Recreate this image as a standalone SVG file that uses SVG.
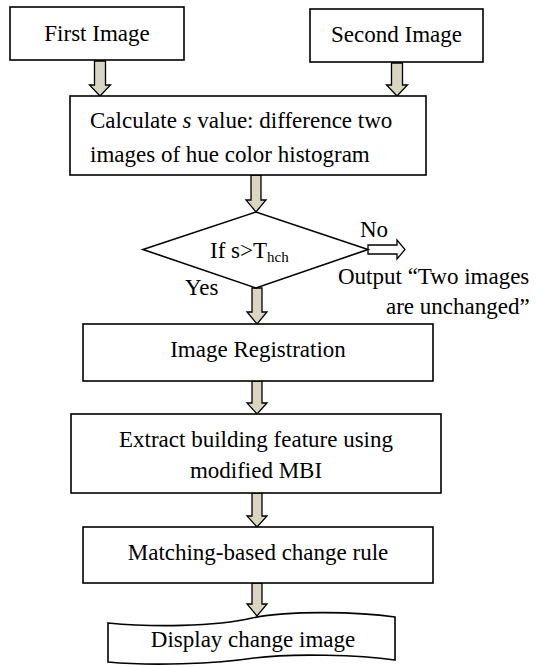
<svg xmlns="http://www.w3.org/2000/svg" width="538" height="666" viewBox="0 0 538 666" font-family="'Liberation Serif', 'Times New Roman', Tinos, 'DejaVu Serif', serif">
<style>
.box{fill:#fff;stroke:#000;stroke-width:1.6}
.t{font-family:'Liberation Serif','Times New Roman',Tinos,'DejaVu Serif',serif;font-size:23px;fill:#000}
.c{text-anchor:middle}
.arr{fill:#d9d5c1;stroke:#000;stroke-width:1.3;stroke-linejoin:miter}
.harr{fill:#fff;stroke:#000;stroke-width:1.3}
</style>
<rect width="538" height="666" fill="#fff"/>
<g id="connectors">
<path class="arr" d="M94.5,61 H105.5 V85 H110.5 L100,96 L89.5,85 H94.5 Z"/>
<path class="arr" d="M391.5,63 H402.5 V85 H407.5 L397,96 L386.5,85 H391.5 Z"/>
<path class="arr" d="M251,175 H261 V200 H266 L256,212 L246,200 H251 Z"/>
<path class="arr" d="M252,288 H262 V312 H267 L257,324 L247,312 H252 Z"/>
<path class="arr" d="M252,381 H262 V403 H267 L257,414 L247,403 H252 Z"/>
<path class="arr" d="M252,493 H262 V516 H267 L257,527 L247,516 H252 Z"/>
<path class="arr" d="M252,583 H262 V604 H267 L257,616 L247,604 H252 Z"/>
<path class="harr" d="M368,245 H397 V240 L405,249.5 L397,259 V254 H368 Z"/>
<text class="t" x="360" y="237">No</text>
<text class="t" x="185" y="295">Yes</text>
</g>
<g id="first-image">
<rect class="box" x="10" y="7" width="174" height="53"/>
<text class="t c" x="97" y="41">First Image</text>
</g>
<g id="second-image">
<rect class="box" x="310" y="9" width="173" height="53"/>
<text class="t c" x="396.5" y="42">Second Image</text>
</g>
<g id="calculate">
<rect class="box" x="70" y="96" width="356" height="79"/>
<text class="t" x="90" y="128">Calculate <tspan font-style="italic">s</tspan> value: difference two</text>
<text class="t" x="90" y="162">images of hue color histogram</text>
</g>
<g id="decision">
<path class="box" d="M143,249.5 L256,212 L368,249.5 L256,288 Z"/>
<text class="t" x="210" y="258">If s&gt;T<tspan font-size="15" dy="4">hch</tspan></text>
</g>
<g id="output-unchanged">
<text class="t" x="338" y="284">Output “Two images</text>
<text class="t" x="386" y="314">are unchanged”</text>
</g>
<g id="registration">
<rect class="box" x="83" y="324" width="350" height="57"/>
<text class="t c" x="258" y="357">Image Registration</text>
</g>
<g id="extract">
<rect class="box" x="71" y="414" width="370" height="79"/>
<text class="t c" x="256" y="447">Extract building feature using</text>
<text class="t c" x="256" y="478">modified MBI</text>
</g>
<g id="matching">
<rect class="box" x="83" y="527" width="350" height="56"/>
<text class="t c" x="258" y="560">Matching-based change rule</text>
</g>
<g id="display">
<path class="box" d="M108,623 C150,627 215,627 252,618 C290,610 360,612 395,617 L395,660 C360,655 292,653 254,658 C215,664 150,666 108,662 Z"/>
<text class="t c" x="253" y="647">Display change image</text>
</g>
</svg>
